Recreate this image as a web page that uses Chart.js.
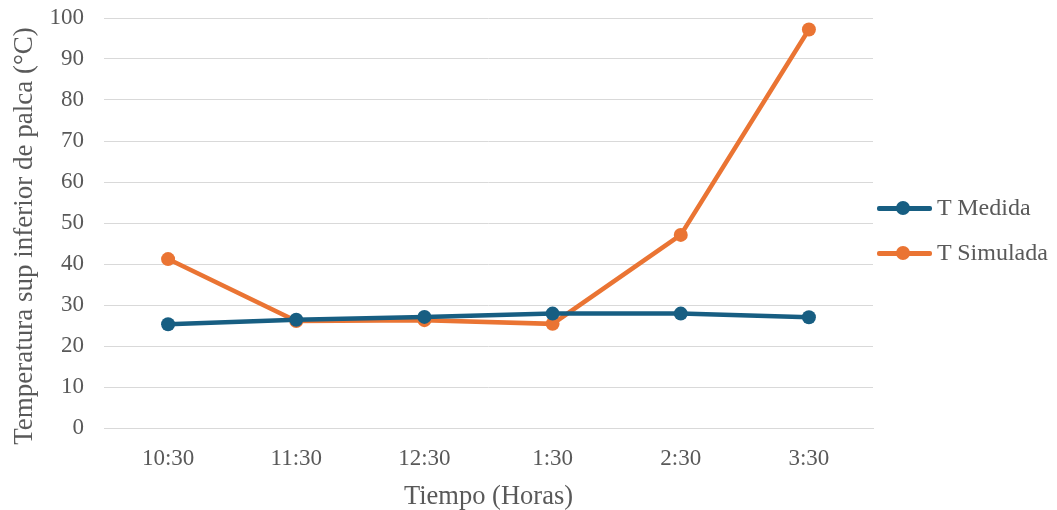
<!DOCTYPE html>
<html>
<head>
<meta charset="utf-8">
<script src="https://cdn.jsdelivr.net/npm/chart.js@4.4.0/dist/chart.umd.min.js"></script>
<style>
  html, body { margin: 0; padding: 0; background: #fff; }
  #wrap { width: 1057px; height: 510px; position: relative; }
  .leyenda { position: absolute; left: 877px; height: 24px; font-family: "Liberation Serif", "Times New Roman", serif; font-size: 24px; color: #595959; white-space: nowrap; }
  .leyenda .linea { position: absolute; left: 0; top: 10px; width: 55px; height: 4.5px; border-radius: 2px; }
  .leyenda .punto { position: absolute; left: 19px; top: 5px; width: 14px; height: 14px; border-radius: 50%; }
  .leyenda .txt { position: absolute; left: 60px; top: -1px; line-height: 24px; }
</style>
</head>
<body>
<div id="wrap">
  <canvas id="tempChart" width="1057" height="510"></canvas>
  <div id="leyendaBox"></div>
</div>
<script>
// data
var horas = ['10:30', '11:30', '12:30', '1:30', '2:30', '3:30'];
var tMedida = [25.3, 26.4, 27.1, 27.9, 27.9, 27.0];
var tSimulada = [41.2, 26.1, 26.3, 25.4, 47.1, 97.2];
var yTicks = [0, 10, 20, 30, 40, 50, 60, 70, 80, 90, 100];
var tituloY = 'Temperatura sup inferior de palca (°C)';

var azul = '#175e82';
var naranja = '#ea7433';
var gris = '#595959';
var fuente = '"Liberation Serif", "Times New Roman", serif';

// y title drawn by hand: Excel puts it a bit lower than the plot centre
var tituloYPlugin = {
    id: 'tituloY',
    afterDraw: function (c) {
        var g = c.ctx;
        g.save();
        g.translate(25, 236);
        g.rotate(-Math.PI / 2);
        g.fillStyle = gris;
        g.font = '27px ' + fuente;
        g.textAlign = 'center';
        g.textBaseline = 'middle';
        g.fillText(tituloY, 0, 0);
        g.restore();
    }
};

var ctx = document.getElementById('tempChart').getContext('2d');
var chart = new Chart(ctx, {
    type: 'line',
    data: {
        labels: horas,
        datasets: [{
            label: 'T Medida',
            data: tMedida,
            borderColor: azul,
            backgroundColor: azul,
            borderWidth: 4.5,
            pointRadius: 7,
            pointHoverRadius: 7,
            pointBorderWidth: 0,
            tension: 0
        }, {
            label: 'T Simulada',
            data: tSimulada,
            borderColor: naranja,
            backgroundColor: naranja,
            borderWidth: 4.5,
            pointRadius: 7,
            pointHoverRadius: 7,
            pointBorderWidth: 0,
            tension: 0
        }]
    },
    options: {
        responsive: false,
        animation: false,
        layout: {
            padding: { left: 10, right: 184, top: 18, bottom: 0 }
        },
        plugins: {
            legend: { display: false }, // custom legend below
            tooltip: { enabled: false }
        },
        scales: {
            x: {
                offset: true,
                grid: { display: false, drawTicks: false },
                border: { display: true, color: '#d9d9d9', width: 1 },
                ticks: {
                    color: gris,
                    padding: 17,
                    font: { family: fuente, size: 23 }
                },
                title: {
                    display: true,
                    text: 'Tiempo (Horas)',
                    color: gris,
                    font: { family: fuente, size: 26.5 },
                    padding: { top: 8, bottom: -3 }
                },
                afterFit: function (axis) { axis.height = 82; }
            },
            y: {
                min: 0,
                max: 100,
                afterBuildTicks: function (axis) {
                    axis.ticks = yTicks.map(function (v) { return { value: v }; });
                },
                grid: { color: '#d9d9d9', lineWidth: 1, drawTicks: false },
                border: { display: false },
                ticks: {
                    color: gris,
                    padding: 20,
                    font: { family: fuente, size: 23 }
                },
                afterFit: function (axis) {
                    axis.width = 94;
                    axis.paddingTop = 0;
                    axis.paddingBottom = 0;
                }
            }
        }
    },
    plugins: [tituloYPlugin]
});

// Excel-like legend: line with dot, then the label
var filas = [196, 241];
var box = document.getElementById('leyendaBox');
chart.data.datasets.forEach(function (ds, i) {
    box.innerHTML += '<div class="leyenda" style="top:' + filas[i] + 'px">' +
        '<span class="linea" style="background:' + ds.borderColor + '"></span>' +
        '<span class="punto" style="background:' + ds.borderColor + '"></span>' +
        '<span class="txt">' + ds.label + '</span></div>';
});
</script>
</body>
</html>
